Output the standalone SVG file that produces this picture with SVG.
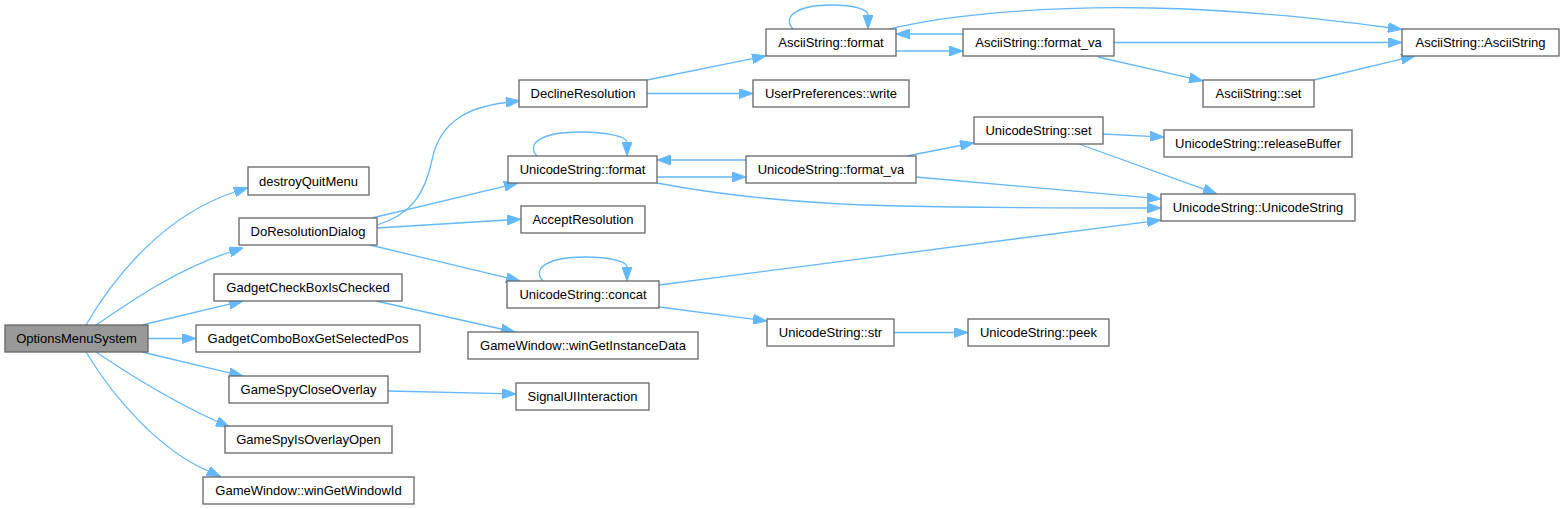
<svg xmlns="http://www.w3.org/2000/svg" width="1564" height="509" viewBox="0 0 1564 509">
<style>
.n rect{fill:#fff;stroke:#666;stroke-width:1.3}
.n.root rect{fill:#999}
.n text{font-family:"Liberation Sans",Arial,sans-serif;font-size:13px;fill:#000;text-anchor:middle}
#edges path{fill:none;stroke:#63b8ff;stroke-width:1.3;marker-end:url(#ah)}
</style>
<defs>
<marker id="ah" viewBox="0 0 14 10" refX="0" refY="5" markerWidth="14" markerHeight="10" markerUnits="userSpaceOnUse" orient="auto">
<polygon points="0,0 14,5 0,10" fill="#63b8ff" stroke="#63b8ff" stroke-width="1"/>
</marker>
</defs>
<rect width="1564" height="509" fill="#fff"/>
<g id="edges">
<path d="M86,325 C115,275 165,215 234.6,192"/>
<path d="M96,325 C130,302 175,270 230,252"/>
<path d="M142,325 L229.4,304.2"/>
<path d="M148,338.5 L182,338.5"/>
<path d="M142,352 L229.4,372.8"/>
<path d="M96,352 C130,375 170,400 217,421.5"/>
<path d="M86,352 C115,400 160,450 208,471"/>
<path d="M377,225 C410,215 425,195 432,160 C440,120 470,107 506,102.5"/>
<path d="M372,218 L504.4,186.3"/>
<path d="M377,228 L507,220"/>
<path d="M370,245 L506.4,277.7"/>
<path d="M376,301 L501.3,329"/>
<path d="M388,391 L502,393.6"/>
<path d="M647,80 L752.3,58.7"/>
<path d="M647,93.5 L739,93.5"/>
<path d="M793,29 C781,16 799,5 831,5 C856,5 868,10 868,15"/>
<path d="M896,51 L949,51"/>
<path d="M963,34 L910,34"/>
<path d="M890,29 C950,14 1050,6 1150,8 C1250,10 1330,20 1388,27.5"/>
<path d="M1114,42.5 L1388,42.5"/>
<path d="M1098,57 L1189.4,77.8"/>
<path d="M1314,80 L1401.4,59.2"/>
<path d="M537,156 C525,143 543,132 580,132 C608,132 627,137 627,142"/>
<path d="M657,177 L732,177"/>
<path d="M746,160 L671,160"/>
<path d="M657,183 C720,195 800,204 900,206 C1000,208 1080,208 1147,208"/>
<path d="M907,156 L960.2,145.5"/>
<path d="M916,177 L1147,197.7"/>
<path d="M1103,134 L1150,136.3"/>
<path d="M1079,144 L1203.8,189.2"/>
<path d="M543,281 C531,268 549,257 585,257 C612,257 627,262 627,267"/>
<path d="M659,285 L1147.1,221.8"/>
<path d="M659,307 L753.1,319.2"/>
<path d="M894,332.5 L954,332.5"/>
</g>
<g id="OptionsMenuSystem" class="n root"><rect x="5" y="325" width="143" height="27"/><text x="76.5" y="343">OptionsMenuSystem</text></g>
<g id="destroyQuitMenu" class="n"><rect x="248" y="167" width="121" height="28"/><text x="308.5" y="186">destroyQuitMenu</text></g>
<g id="DoResolutionDialog" class="n"><rect x="239" y="218" width="138" height="27"/><text x="308" y="236">DoResolutionDialog</text></g>
<g id="GadgetCheckBoxIsChecked" class="n"><rect x="214" y="274" width="188" height="27"/><text x="308" y="292">GadgetCheckBoxIsChecked</text></g>
<g id="GadgetComboBoxGetSelectedPos" class="n"><rect x="196" y="325" width="224" height="27"/><text x="308" y="343">GadgetComboBoxGetSelectedPos</text></g>
<g id="GameSpyCloseOverlay" class="n"><rect x="229" y="376" width="159" height="27"/><text x="308.5" y="394">GameSpyCloseOverlay</text></g>
<g id="GameSpyIsOverlayOpen" class="n"><rect x="225" y="426" width="167" height="27"/><text x="308.5" y="444">GameSpyIsOverlayOpen</text></g>
<g id="GameWindow_winGetWindowId" class="n"><rect x="203" y="477" width="211" height="27"/><text x="308.5" y="495">GameWindow::winGetWindowId</text></g>
<g id="DeclineResolution" class="n"><rect x="519" y="80" width="128" height="27"/><text x="583" y="98">DeclineResolution</text></g>
<g id="UnicodeString_format" class="n"><rect x="508" y="156" width="149" height="27"/><text x="582.5" y="174">UnicodeString::format</text></g>
<g id="AcceptResolution" class="n"><rect x="521" y="206" width="124" height="27"/><text x="583" y="224">AcceptResolution</text></g>
<g id="UnicodeString_concat" class="n"><rect x="507" y="281" width="152" height="27"/><text x="583" y="299">UnicodeString::concat</text></g>
<g id="GameWindow_winGetInstanceData" class="n"><rect x="468" y="332" width="230" height="27"/><text x="583" y="350">GameWindow::winGetInstanceData</text></g>
<g id="SignalUIInteraction" class="n"><rect x="516" y="383" width="133" height="27"/><text x="582.5" y="401">SignalUIInteraction</text></g>
<g id="AsciiString_format" class="n"><rect x="766" y="29" width="130" height="27"/><text x="831" y="47">AsciiString::format</text></g>
<g id="UserPreferences_write" class="n"><rect x="753" y="80" width="156" height="27"/><text x="831" y="98">UserPreferences::write</text></g>
<g id="UnicodeString_format_va" class="n"><rect x="746" y="156" width="170" height="27"/><text x="831" y="174">UnicodeString::format_va</text></g>
<g id="UnicodeString_str" class="n"><rect x="767" y="319" width="127" height="27"/><text x="830.5" y="337">UnicodeString::str</text></g>
<g id="AsciiString_format_va" class="n"><rect x="963" y="29" width="151" height="27"/><text x="1038.5" y="47">AsciiString::format_va</text></g>
<g id="UnicodeString_set" class="n"><rect x="974" y="117" width="129" height="27"/><text x="1038.5" y="135">UnicodeString::set</text></g>
<g id="UnicodeString_peek" class="n"><rect x="968" y="319" width="141" height="27"/><text x="1038.5" y="337">UnicodeString::peek</text></g>
<g id="AsciiString_set" class="n"><rect x="1203" y="80" width="111" height="27"/><text x="1258.5" y="98">AsciiString::set</text></g>
<g id="UnicodeString_releaseBuffer" class="n"><rect x="1164" y="130" width="188" height="27"/><text x="1258" y="148">UnicodeString::releaseBuffer</text></g>
<g id="UnicodeString_UnicodeString" class="n"><rect x="1161" y="194" width="194" height="27"/><text x="1258" y="212">UnicodeString::UnicodeString</text></g>
<g id="AsciiString_AsciiString" class="n"><rect x="1402" y="29" width="157" height="27"/><text x="1480.5" y="47">AsciiString::AsciiString</text></g>
</svg>
